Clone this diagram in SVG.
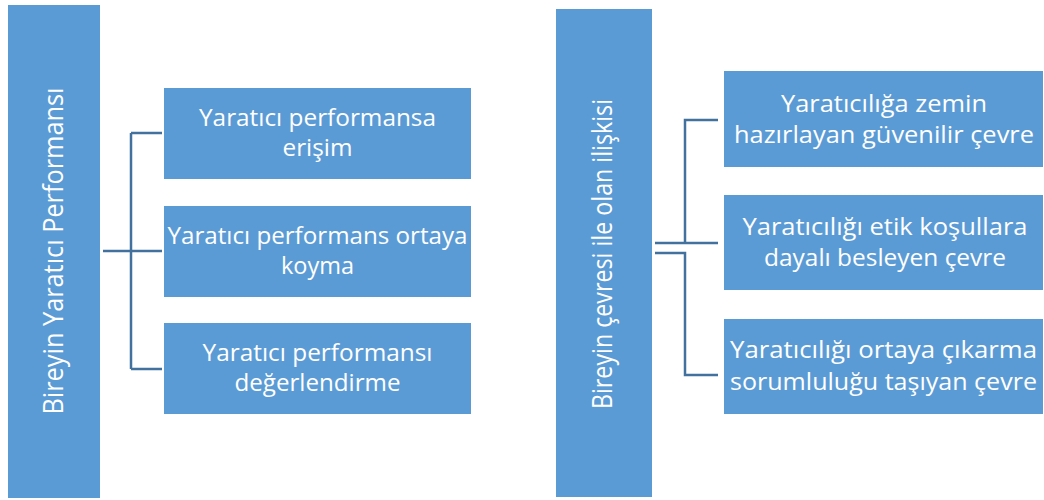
<svg xmlns="http://www.w3.org/2000/svg" width="1044" height="500" viewBox="0 0 1044 500">
<style>
.box{fill:#5b9bd5;}
.t{fill:#ffffff;font-family:"Open Sans","Noto Sans",sans-serif;font-size:24px;text-anchor:middle;}
.v{fill:#ffffff;font-family:"Open Sans","Noto Sans",sans-serif;font-size:27px;text-anchor:middle;}
.c{fill:none;stroke:#41719c;stroke-width:2.5;}
</style>
<rect width="1044" height="500" fill="#ffffff"/>
<g id="connectors">
<path class="c" d="M103,251 H131 M131,133 V369 M131,133 H162 M131,251 H162 M131,369 H162"/>
<path class="c" d="M655,243 H718 M685,243 V120 H718 M655,253 H685 V375 H718"/>
</g>
<g id="root-left">
<rect class="box" x="8" y="5" width="92" height="493"/>
<text class="v" transform="translate(63,251) rotate(-90)" textLength="327" lengthAdjust="spacingAndGlyphs">Bireyin Yaratıcı Performansı</text>
</g>
<g id="left-1">
<rect class="box" x="164" y="88" width="307" height="91"/>
<text class="t" x="317.5" y="126" textLength="237" lengthAdjust="spacingAndGlyphs">Yaratıcı performansa</text>
<text class="t" x="317.5" y="156" textLength="70" lengthAdjust="spacingAndGlyphs">erişim</text>
</g>
<g id="left-2">
<rect class="box" x="164" y="206" width="307" height="91"/>
<text class="t" x="317.5" y="244" textLength="300" lengthAdjust="spacingAndGlyphs">Yaratıcı performans ortaya</text>
<text class="t" x="317.5" y="274" textLength="73" lengthAdjust="spacingAndGlyphs">koyma</text>
</g>
<g id="left-3">
<rect class="box" x="164" y="323" width="307" height="91"/>
<text class="t" x="317.5" y="361" textLength="230" lengthAdjust="spacingAndGlyphs">Yaratıcı performansı</text>
<text class="t" x="317.5" y="391" textLength="166" lengthAdjust="spacingAndGlyphs">değerlendirme</text>
</g>
<g id="root-right">
<rect class="box" x="556" y="9" width="96" height="488"/>
<text class="v" transform="translate(612,254) rotate(-90)" textLength="310" lengthAdjust="spacingAndGlyphs">Bireyin çevresi ile olan ilişkisi</text>
</g>
<g id="right-1">
<rect class="box" x="724" y="71" width="319" height="96"/>
<text class="t" x="884" y="112" textLength="206" lengthAdjust="spacingAndGlyphs">Yaratıcılığa zemin</text>
<text class="t" x="884" y="143" textLength="300" lengthAdjust="spacingAndGlyphs">hazırlayan güvenilir çevre</text>
</g>
<g id="right-2">
<rect class="box" x="724" y="195" width="319" height="95"/>
<text class="t" x="885" y="235" textLength="285" lengthAdjust="spacingAndGlyphs">Yaratıcılığı etik koşullara</text>
<text class="t" x="885" y="266" textLength="242" lengthAdjust="spacingAndGlyphs">dayalı besleyen çevre</text>
</g>
<g id="right-3">
<rect class="box" x="724" y="319" width="319" height="95"/>
<text class="t" x="883.5" y="358" textLength="307" lengthAdjust="spacingAndGlyphs">Yaratıcılığı ortaya çıkarma</text>
<text class="t" x="883.5" y="390" textLength="307" lengthAdjust="spacingAndGlyphs">sorumluluğu taşıyan çevre</text>
</g>
</svg>
